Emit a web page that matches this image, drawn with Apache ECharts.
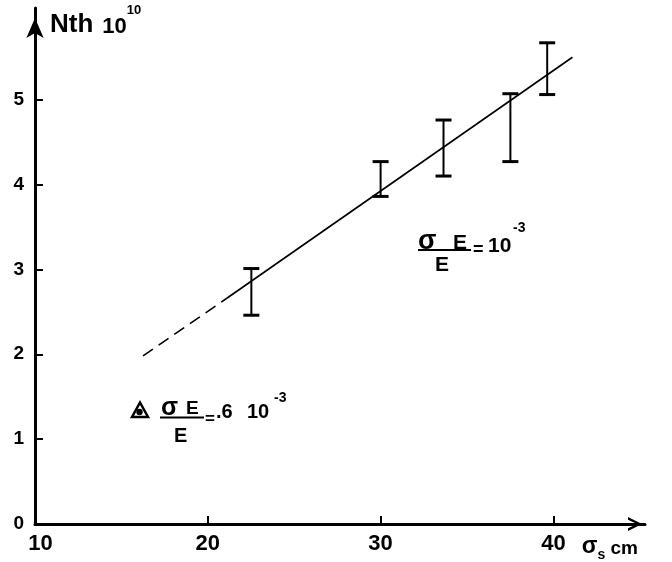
<!DOCTYPE html>
<html>
<head>
<meta charset="utf-8">
<style>
html,body{margin:0;padding:0;background:#fff;}
#chart{width:672px;height:562px;}
</style>
<script src="https://cdn.jsdelivr.net/npm/echarts@6/dist/echarts.min.js"></script>
</head>
<body>
<div id="chart"></div>
<script>
// ---- data ----
const xTicks = [10, 20, 30, 40];
const yTicks = [0, 1, 2, 3, 4, 5];
const errX    = [22.52, 30.0, 33.64, 37.51, 39.64];
const errLow  = [2.46, 3.86, 4.10, 4.27, 5.06];
const errHigh = [3.01, 4.27, 4.76, 5.07, 5.67];
const fitSolidX = [21.1, 41.1];
const fitSolidY = [2.66, 5.50];
const fitDashX  = [16.25, 21.1];
const fitDashY  = [1.98, 2.66];

const FONT = "'Liberation Sans', Arial, Helvetica, sans-serif";
const chart = echarts.init(document.getElementById('chart'), null, {renderer: 'canvas'});

const errData = errX.map((x, i) => [x, errLow[i], errHigh[i]]);
const solidData = fitSolidX.map((x, i) => [x, fitSolidY[i]]);
const dashData = fitDashX.map((x, i) => [x, fitDashY[i]]);

const chevron = 'path://M0,20 L10,0 L20,20 L16,20 L10,7 L4,20 Z';

function txt(text, x, y, size, extra) {
  return {
    type: 'text', silent: true,
    style: Object.assign({
      text: text, x: x, y: y, fill: '#000', fontWeight: 'bold',
      fontSize: size, fontFamily: FONT, verticalAlign: 'middle', align: 'left'
    }, extra || {})
  };
}
function hline(x1, x2, y, w) {
  return {type: 'line', silent: true, shape: {x1: x1, y1: y, x2: x2, y2: y},
          style: {stroke: '#000', lineWidth: w || 2}};
}

const option = {
  backgroundColor: '#fff',
  animation: false,
  grid: {left: 35, right: 27, top: 8, bottom: 36, containLabel: false},
  xAxis: {
    type: 'value', min: 10, max: 45.3,
    name: '{s|σ}{sub|s}{c| cm}',
    nameLocation: 'end', nameGap: -7,
    nameTextStyle: {
      align: 'right', verticalAlign: 'top', padding: [11, 0, 0, 0],
      rich: {
        s: {fontSize: 23, fontWeight: 'bold', fontFamily: FONT, color: '#000', verticalAlign: 'bottom'},
        sub: {fontSize: 14, fontFamily: FONT, color: '#000', fontWeight: 'bold', verticalAlign: 'bottom', padding: [0, 0, -4, 0]},
        c: {fontSize: 19, fontFamily: FONT, color: '#000', fontWeight: 'bold', verticalAlign: 'bottom'}
      }
    },
    axisLine: {show: true, onZero: false, lineStyle: {color: '#000', width: 3},
               symbol: ['none', chevron], symbolSize: [14, 20], symbolOffset: [0, -10]},
    axisTick: {show: true, inside: true, length: 8, lineStyle: {color: '#000', width: 2},
               customValues: xTicks},
    axisLabel: {show: true, customValues: xTicks, margin: 9, color: '#000',
                fontSize: 22, fontWeight: 'bold', fontFamily: FONT,
                formatter: function (v) { return v === 10 ? '{p|10}' : String(v); },
                rich: {p: {fontSize: 22, fontWeight: 'bold', fontFamily: FONT, color: '#000', padding: [0, 0, 0, 11]}}},
    splitLine: {show: false}
  },
  yAxis: {
    type: 'value', min: 0, max: 6.08,
    name: '{n|Nth}{b|10}{sup|10}',
    nameLocation: 'end', nameGap: -13,
    nameTextStyle: {
      align: 'left', verticalAlign: 'middle', padding: [0, 0, 0, 15],
      rich: {
        n: {fontSize: 26, fontWeight: 'bold', fontFamily: FONT, color: '#000', verticalAlign: 'bottom', lineHeight: 34},
        b: {fontSize: 22, fontWeight: 'bold', fontFamily: FONT, color: '#000', verticalAlign: 'bottom', lineHeight: 34, padding: [0, 0, 0, 9]},
        sup: {fontSize: 13, fontWeight: 'bold', fontFamily: FONT, color: '#000', verticalAlign: 'top', lineHeight: 14}
      }
    },
    axisLine: {show: true, onZero: false, lineStyle: {color: '#000', width: 3},
               symbol: ['none', 'arrow'], symbolSize: [13, 20], symbolOffset: [0, -10]},
    axisTick: {show: true, inside: true, length: 8, lineStyle: {color: '#000', width: 2},
               customValues: yTicks},
    axisLabel: {show: true, customValues: yTicks, margin: 11, color: '#000',
                fontSize: 19, fontWeight: 'bold', fontFamily: FONT},
    splitLine: {show: false}
  },
  series: [
    {
      type: 'line', data: solidData, symbol: 'none', silent: true,
      lineStyle: {color: '#000', width: 1.6, type: 'solid'}
    },
    {
      type: 'line', data: dashData, symbol: 'none', silent: true,
      lineStyle: {color: '#000', width: 1.6, type: [12, 7]}
    },
    {
      type: 'custom', data: errData, silent: true,
      renderItem: function (params, api) {
        const x = api.value(0), lo = api.value(1), hi = api.value(2);
        const pt = api.coord([x, hi]);
        const pb = api.coord([x, lo]);
        const hw = 8;
        return {
          type: 'group',
          children: [
            {type: 'line', shape: {x1: pt[0], y1: pt[1], x2: pb[0], y2: pb[1]},
             style: {stroke: '#000', lineWidth: 2}},
            {type: 'line', shape: {x1: pt[0] - hw, y1: pt[1], x2: pt[0] + hw, y2: pt[1]},
             style: {stroke: '#000', lineWidth: 3}},
            {type: 'line', shape: {x1: pb[0] - hw, y1: pb[1], x2: pb[0] + hw, y2: pb[1]},
             style: {stroke: '#000', lineWidth: 3}}
          ]
        };
      }
    }
  ],
  graphic: [
    // sigma_E / E = 10^-3
    txt('σ', 418, 242, 27),
    txt('E', 453, 243, 21),
    hline(418, 471, 250, 2),
    txt('E', 435, 265, 21),
    txt('=', 473, 250, 18),
    txt('10', 488, 246, 21),
    txt('-3', 513, 228, 14),
    // triangle key:  sigma_E / E = .6 10^-3
    {type: 'polygon', silent: true, shape: {points: [[132, 417], [140, 402.5], [148, 417]]},
     style: {fill: 'none', stroke: '#000', lineWidth: 2.5}},
    {type: 'circle', silent: true, shape: {cx: 139.5, cy: 412, r: 3.2}, style: {fill: '#000'}},
    txt('σ', 161, 408, 25),
    txt('E', 186, 409, 19),
    hline(160, 204, 417.5, 2),
    txt('E', 174, 436, 20),
    txt('=', 205, 419, 17),
    txt('.6', 216, 412, 20),
    txt('10', 247, 412, 20),
    txt('-3', 274, 398, 14)
  ]
};
chart.setOption(option);
</script>
</body>
</html>
